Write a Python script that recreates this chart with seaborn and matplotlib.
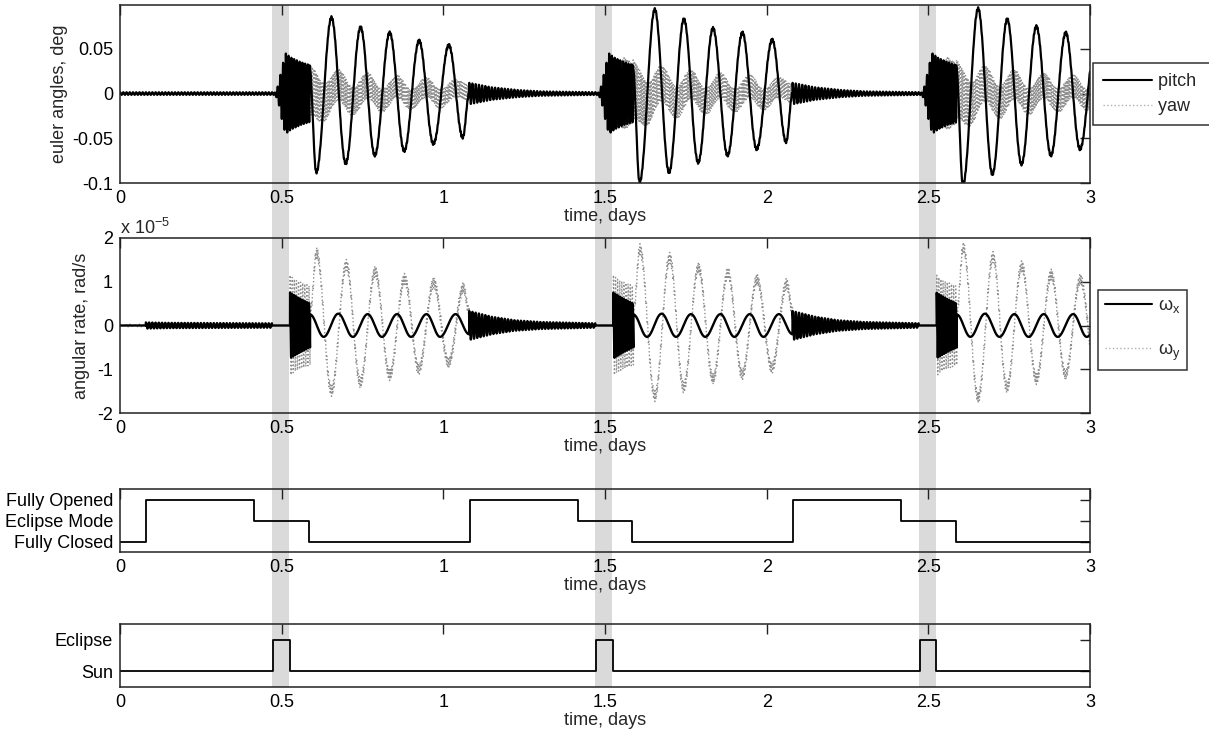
import numpy as np
import matplotlib
matplotlib.use("Agg")
import matplotlib.pyplot as plt
from matplotlib.lines import Line2D
import seaborn as sns

# ---------------- data ----------------
DAYS = [0, 1, 2]
X_TICKS = [0, 0.5, 1, 1.5, 2, 2.5, 3]
X_TICK_LABELS = ["0", "0.5", "1", "1.5", "2", "2.5", "3"]

# eclipse shading (days)
ECLIPSE_START = [0.470, 1.470, 2.470]
ECLIPSE_END = [0.523, 1.523, 2.523]

# solar panel state (0 closed, 1 eclipse mode, 2 opened)
STATE_TIMES = [0, 0.080, 0.415, 0.585, 1.082, 1.417, 1.583, 2.082, 2.415, 2.586, 3.0]
STATE_LEVELS = [0, 2, 1, 0, 2, 1, 0, 2, 1, 0, 0]
STATE_LABELS = ["Fully Closed", "Eclipse Mode", "Fully Opened"]

# sun / eclipse flag
SUN_TIMES = [0, 0.473, 0.525, 1.473, 1.525, 2.473, 2.525, 3.0]
SUN_LEVELS = [0, 1, 0, 1, 0, 1, 0, 0]
SUN_LABELS = ["Sun", "Eclipse"]

# pitch slow oscillation extrema (time relative to day start, deg)
PITCH_EXT_T = [0.586, 0.607, 0.654, 0.698, 0.744, 0.788, 0.834, 0.879, 0.925, 0.969, 1.017, 1.060, 1.080]
PITCH_EXT = [
    [0.030, -0.088, 0.085, -0.078, 0.074, -0.069, 0.068, -0.064, 0.059, -0.056, 0.054, -0.049, 0.0],
    [0.030, -0.099, 0.094, -0.088, 0.083, -0.077, 0.073, -0.069, 0.068, -0.062, 0.060, -0.054, 0.0],
    [0.030, -0.102, 0.095, -0.090, 0.083, -0.079, 0.075, -0.069, 0.068, -0.062, 0.060, -0.054, 0.0],
]
# pitch fast burst envelope at eclipse entry
PITCH_BURST_T = [0.479, 0.490, 0.500, 0.512, 0.530, 0.560, 0.586]
PITCH_BURST_ENV = [0.0, 0.010, 0.028, 0.045, 0.040, 0.035, 0.032]
# pitch decaying ripple after panels close
PITCH_DECAY_T = [1.080, 1.150, 1.230, 1.300, 1.479]
PITCH_DECAY_ENV = [0.012, 0.007, 0.004, 0.0025, 0.0015]
PITCH_QUIET_ENV = 0.0015

# yaw: slow centre extrema + band half-width
YAW_EXT_T = [0.586, 0.630, 0.675, 0.720, 0.766, 0.810, 0.857, 0.900, 0.948, 0.990, 1.038, 1.080]
YAW_EXT = [0.004, -0.010, 0.010, -0.009, 0.009, -0.008, 0.008, -0.007, 0.007, -0.006, 0.006, 0.0]
YAW_BAND_T = [0.479, 0.520, 0.560, 0.590, 0.650, 0.800, 1.080]
YAW_BAND = [0.0, 0.025, 0.035, 0.028, 0.018, 0.013, 0.009]
YAW_DAY_SCALE = [1.0, 1.15, 1.15]

# angular rates (units of 1e-5 rad/s)
WX_EXT_T = [0.588, 0.630, 0.675, 0.720, 0.766, 0.810, 0.857, 0.900, 0.948, 0.990, 1.038, 1.080]
WX_EXT = [0.25, -0.26, 0.27, -0.26, 0.26, -0.26, 0.26, -0.26, 0.26, -0.26, 0.26, -0.20]
WX_BURST_T = [0.526, 0.530, 0.560, 0.588]
WX_BURST_ENV = [0.75, 0.73, 0.60, 0.50]
WX_DECAY_T = [1.080, 1.150, 1.220, 1.300, 1.470]
WX_DECAY_ENV = [0.33, 0.20, 0.12, 0.08, 0.05]
WX_EARLY_T = [0.080, 0.150, 0.470]
WX_EARLY_ENV = [0.07, 0.06, 0.05]

WY_EXT_T = [0.588, 0.608, 0.654, 0.700, 0.743, 0.789, 0.834, 0.880, 0.924, 0.970, 1.016, 1.062, 1.080]
WY_EXT = [
    [0.3, 1.66, -1.50, 1.39, -1.31, 1.24, -1.14, 1.07, -1.00, 0.98, -0.85, 0.86, 0.3],
    [0.3, 1.75, -1.62, 1.55, -1.42, 1.32, -1.22, 1.20, -1.12, 1.05, -0.97, 0.96, 0.3],
    [0.3, 1.78, -1.65, 1.57, -1.42, 1.36, -1.23, 1.17, -1.12, 1.05, -0.97, 0.96, 0.3],
]
WY_BURST_T = [0.526, 0.540, 0.588]
WY_BURST_ENV = [1.15, 1.05, 0.90]
WY_RIPPLE = 0.12
WY_EARLY_ENV = 0.03

# oscillation periods (days)
P_BURST = 0.0085
P_RATE_BURST = 0.0065
P_DECAY = 0.010
P_FINE = 0.004

# ---------------- helpers ----------------
t = np.arange(0.0, 3.0001, 0.0002)


def through_extrema(tt, kt, kv):
    kt = np.asarray(kt)
    kv = np.asarray(kv)
    y = np.zeros_like(tt)
    m = (tt >= kt[0]) & (tt < kt[-1])
    i = np.clip(np.searchsorted(kt, tt[m], side="right") - 1, 0, len(kt) - 2)
    s = (tt[m] - kt[i]) / (kt[i + 1] - kt[i])
    y[m] = kv[i] + (kv[i + 1] - kv[i]) * (1 - np.cos(np.pi * s)) / 2
    return y


def oscillation(tt, t0, t1, env_t, env_v, period):
    m = (tt >= t0) & (tt < t1)
    env = np.interp(tt, env_t, env_v)
    return np.where(m, env * np.cos(2 * np.pi * (tt - t0) / period), 0.0)


pitch = oscillation(t, 0.0, 0.479, [0, 0.479], [PITCH_QUIET_ENV] * 2, P_DECAY)
yaw = np.zeros_like(t)
wx = oscillation(t, WX_EARLY_T[0], 0.470, WX_EARLY_T, WX_EARLY_ENV, P_DECAY)
wy = oscillation(t, 0.0, 0.080, [0, 0.08], [WY_EARLY_ENV] * 2, P_DECAY)

for d in DAYS:
    bt = np.array(PITCH_BURST_T) + d
    pitch += oscillation(t, bt[0], bt[-1], bt, PITCH_BURST_ENV, P_BURST)
    et = np.array(PITCH_EXT_T) + d
    pitch += through_extrema(t, et, PITCH_EXT[d])
    pitch += oscillation(t, et[0], et[-1], [et[0], et[-1]], [PITCH_QUIET_ENV] * 2, P_FINE)
    dt = np.array(PITCH_DECAY_T) + d
    pitch += oscillation(t, dt[0], dt[-1], dt, PITCH_DECAY_ENV, P_DECAY)

    yt = np.array(YAW_EXT_T) + d
    yaw += through_extrema(t, yt, np.array(YAW_EXT) * YAW_DAY_SCALE[d])
    ybt = np.array(YAW_BAND_T) + d
    yaw += oscillation(t, ybt[0], ybt[-1], ybt, np.array(YAW_BAND) * YAW_DAY_SCALE[d], P_FINE)

    wbt = np.array(WX_BURST_T) + d
    wx += oscillation(t, wbt[0], wbt[-1], wbt, WX_BURST_ENV, P_RATE_BURST)
    wxt = np.array(WX_EXT_T) + d
    wx += through_extrema(t, wxt, WX_EXT)
    wdt = np.array(WX_DECAY_T) + d
    wx += oscillation(t, wdt[0], wdt[-1], wdt, WX_DECAY_ENV, P_DECAY)

    ybt2 = np.array(WY_BURST_T) + d
    wy += oscillation(t, ybt2[0], ybt2[-1], ybt2, WY_BURST_ENV, P_RATE_BURST)
    wyt = np.array(WY_EXT_T) + d
    wy += through_extrema(t, wyt, WY_EXT[d])
    wy += oscillation(t, wyt[0], wyt[-1], [wyt[0], wyt[-1]], [WY_RIPPLE] * 2, P_FINE)

# ---------------- figure ----------------
sns.set_theme(style="white")
plt.rcParams["font.family"] = ["Liberation Sans", "DejaVu Sans"]
plt.rcParams["mathtext.fontset"] = "custom"
plt.rcParams["mathtext.rm"] = "Liberation Sans"
plt.rcParams["mathtext.it"] = "Liberation Sans"

W, H = 1209, 736
fig = plt.figure(figsize=(W / 100, H / 100), dpi=100)
fig.patch.set_facecolor("white")

L, R = 120 / W, 1090 / W
panels_px = [(5, 183), (238, 413), (489, 552), (624, 687)]


def ax_at(top, bottom, z=2):
    a = fig.add_axes([L, 1 - bottom / H, R - L, (bottom - top) / H])
    a.set_zorder(z)
    a.patch.set_alpha(0)
    return a


# background axes for eclipse bands spanning all panels
bg = ax_at(5, 687, z=0)
bg.set_xlim(0, 3)
bg.set_ylim(0, 1)
bg.axis("off")
for s, e in zip(ECLIPSE_START, ECLIPSE_END):
    bg.axvspan(s, e, color="#dadada", lw=0)

axes = [ax_at(tp, bt) for tp, bt in panels_px]
FS = 13
GRAY = "#8f8f8f"

for a in axes:
    a.set_xlim(0, 3)
    a.set_xticks(X_TICKS)
    a.set_xticklabels(X_TICK_LABELS)
    a.tick_params(direction="in", top=True, right=True, length=7, width=1,
                  labelsize=FS, color="#222222", labelcolor="black", pad=5)
    for sp in a.spines.values():
        sp.set_color("#222222")
        sp.set_linewidth(1.1)
        sp.set_visible(True)
    a.set_xlabel("time, days", fontsize=FS, labelpad=1)

# panel 1: euler angles
a1 = axes[0]
sns.lineplot(x=t, y=yaw, ax=a1, color=GRAY, lw=1.0, linestyle=":", estimator=None, sort=False)
sns.lineplot(x=t, y=pitch, ax=a1, color="black", lw=1.6, estimator=None, sort=False)
a1.set_ylim(-0.1, 0.099)
a1.set_yticks([-0.1, -0.05, 0, 0.05])
a1.set_yticklabels(["-0.1", "-0.05", "0", "0.05"])
a1.set_ylabel("euler angles, deg", fontsize=FS, labelpad=3)
h1 = [Line2D([], [], color="black", lw=1.5), Line2D([], [], color="#b0b0b0", lw=1.0, linestyle=":")]
leg1 = a1.legend(h1, ["pitch  ", "yaw  "], loc="upper left", bbox_to_anchor=(1093 / W, 1 - 63 / H),
                 bbox_transform=fig.transFigure, borderaxespad=0, fontsize=FS, frameon=True,
                 fancybox=False, edgecolor="black", handlelength=2.7, borderpad=0.55,
                 labelspacing=0.45, handletextpad=0.35)
leg1.get_frame().set_linewidth(1.1)

# panel 2: angular rates
a2 = axes[1]
sns.lineplot(x=t, y=wy, ax=a2, color=GRAY, lw=1.0, linestyle=":", estimator=None, sort=False)
sns.lineplot(x=t, y=wx, ax=a2, color="black", lw=1.7, estimator=None, sort=False)
a2.set_ylim(-2, 2)
a2.set_yticks([-2, -1, 0, 1, 2])
a2.set_yticklabels(["-2", "-1", "0", "1", "2"])
a2.set_ylabel("angular rate, rad/s", fontsize=FS, labelpad=5)
fig.text(120 / W, 1 - 228 / H, "x 10$^{\\mathregular{-5}}$", fontsize=FS, ha="left", va="center")
h2 = [Line2D([], [], color="black", lw=1.5), Line2D([], [], color="#b0b0b0", lw=1.0, linestyle=":")]
leg2 = a2.legend(h2, ["ω$_{\\mathregular{x}}$", "ω$_{\\mathregular{y}}$"], loc="upper left",
                 bbox_to_anchor=(1098 / W, 1 - 290 / H), bbox_transform=fig.transFigure,
                 borderaxespad=0, fontsize=FS, frameon=True, fancybox=False, edgecolor="black",
                 handlelength=2.6, borderpad=0.4, labelspacing=1.45, handletextpad=0.3)
leg2.get_frame().set_linewidth(1.1)

# panel 3: solar panel state
a3 = axes[2]
sns.lineplot(x=STATE_TIMES, y=STATE_LEVELS, ax=a3, color="black", lw=1.3, drawstyle="steps-post",
             estimator=None, sort=False)
a3.set_ylim(-0.5, 2.5)
a3.set_yticks([0, 1, 2])
a3.set_yticklabels(STATE_LABELS)

# panel 4: sun/eclipse
a4 = axes[3]
sns.lineplot(x=SUN_TIMES, y=SUN_LEVELS, ax=a4, color="black", lw=1.3, drawstyle="steps-post",
             estimator=None, sort=False)
a4.set_ylim(-0.5, 1.5)
a4.set_yticks([0, 1])
a4.set_yticklabels(SUN_LABELS)

for a in axes:
    a.set_xlim(0, 3)

fig.savefig("out.png", dpi=100, facecolor="white")
